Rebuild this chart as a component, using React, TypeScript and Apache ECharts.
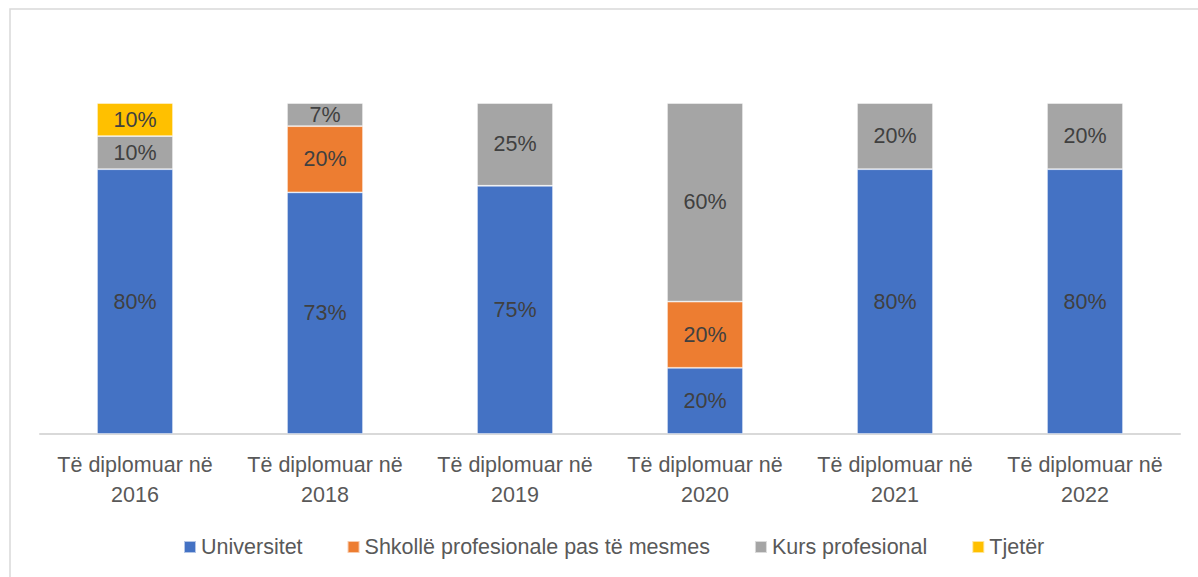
import React, { useEffect, useRef } from "react";
import * as echarts from "echarts";

const categories = [
  "Të diplomuar në\n2016",
  "Të diplomuar në\n2018",
  "Të diplomuar në\n2019",
  "Të diplomuar në\n2020",
  "Të diplomuar në\n2021",
  "Të diplomuar në\n2022",
];
const seriesNames = ["Universitet", "Shkollë profesionale pas të mesmes", "Kurs profesional", "Tjetër"];
const universitet = [80, 73, 75, 20, 80, 80];
const shkolle = [null, 20, null, 20, null, null];
const kurs = [10, 7, 25, 60, 20, 20];
const tjeter = [10, null, null, null, null, null];
const colors = ["#4472C4", "#ED7D31", "#A5A5A5", "#FFC000"];

const FONT = "Liberation Sans";

export default function App() {
  const ref = useRef<HTMLDivElement>(null);
  useEffect(() => {
    document.body.style.margin = "0";
    const chart = echarts.init(ref.current!, null, { renderer: "svg" });
    const values = [universitet, shkolle, kurs, tjeter];
    chart.setOption({
      animation: false,
      textStyle: { fontFamily: FONT },
      graphic: [
        {
          type: "rect",
          shape: { x: 10, y: 9, width: 1300, height: 700 },
          style: { fill: "none", stroke: "#D9D9D9", lineWidth: 1.5 },
          silent: true,
        },
      ],
      legend: {
        left: 178,
        top: 531,
        itemWidth: 12,
        itemHeight: 12,
        itemGap: 44,
        icon: "rect",
        textStyle: { fontSize: 21.5, color: "#595959", fontFamily: FONT },
        data: seriesNames,
      },
      grid: { left: 40, right: 18, top: 103, bottom: 143 },
      xAxis: {
        type: "category",
        data: categories,
        axisLine: { show: true, lineStyle: { color: "#D9D9D9", width: 2 } },
        axisTick: { show: false },
        axisLabel: {
          fontSize: 21.5,
          color: "#595959",
          lineHeight: 30,
          margin: 16,
          interval: 0,
          fontFamily: FONT,
        },
      },
      yAxis: {
        type: "value",
        min: 0,
        max: 100,
        show: false,
        splitLine: { show: false },
      },
      series: seriesNames.map((name, i) => ({
        name,
        type: "bar",
        stack: "total",
        barWidth: 76,
        data: values[i],
        itemStyle: { color: colors[i], borderColor: "rgba(255,255,255,0.6)", borderWidth: 0.8 },
        label: {
          show: true,
          position: "inside",
          formatter: "{c}%",
          fontSize: 21.5,
          color: "#404040",
          fontFamily: FONT,
        },
      })),
    });
    return () => chart.dispose();
  }, []);
  return (
    <div
      ref={ref}
      style={{ position: "absolute", left: 0, top: 0, width: 1198, height: 577, background: "#fff" }}
    />
  );
}
